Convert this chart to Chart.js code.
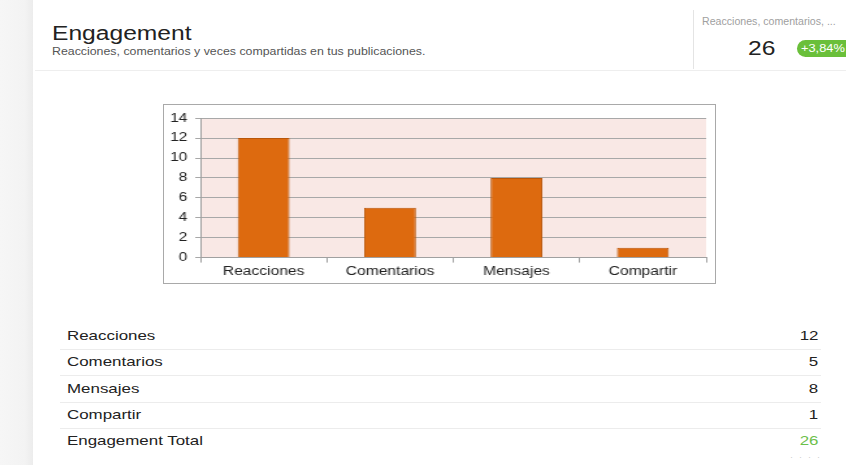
<!DOCTYPE html>
<html>
<head>
<meta charset="utf-8">
<script src="https://cdn.jsdelivr.net/npm/chart.js@4"></script>
<style>
  html, body { margin: 0; padding: 0; }
  body {
    width: 846px; height: 465px; overflow: hidden; position: relative;
    font-family: "Liberation Sans", Arial, sans-serif; color: #222;
    background: #fff;
  }
  .strip {
    position: absolute; left: 0; top: 0; width: 33px; height: 465px;
    background: linear-gradient(to right, #f6f6f6 0%, #f3f3f3 75%, #ececec 100%);
  }
  .sx { display: inline-block; white-space: nowrap; transform-origin: left center; }
  .title { position: absolute; left: 52px; top: 22px; font-size: 20px; color: #222; }
  .title .sx { transform: scaleX(1.23); }
  .subtitle { position: absolute; left: 52px; top: 46px; font-size: 10px; color: #555; }
  .subtitle .sx { transform: scaleX(1.235); }
  .hline { position: absolute; left: 35px; top: 70px; width: 811px; height: 1px; background: #eeeeee; }
  .vline { position: absolute; left: 693px; top: 10px; width: 1px; height: 59px; background: #e4e4e4; }
  .kpi-label { position: absolute; left: 702px; top: 16px; font-size: 10px; color: #a0a0a0; }
  .kpi-label .sx { transform: scaleX(1.06); }
  .kpi-value { position: absolute; left: 748px; top: 37px; font-size: 20px; color: #222; }
  .kpi-value .sx { transform: scaleX(1.23); }
  .pill {
    position: absolute; left: 797px; top: 40px; width: 60px; height: 17px;
    border-radius: 9px; background: #6abf3a; color: #fff; font-size: 10px;
    line-height: 17px; padding-left: 4px; box-sizing: border-box;
  }
  .pill .sx { transform: scaleX(1.28); }
  .box {
    position: absolute; left: 163px; top: 104px; width: 553px; height: 180px;
    border: 1px solid #a9a9a9; box-sizing: border-box; background: #fff; overflow: hidden;
  }
  .stretch { width: 424px; height: 178px; transform: scaleX(1.3); transform-origin: left top; }
  .row {
    position: absolute; left: 60px; width: 761px; height: 26px;
    font-size: 13px; line-height: 26px;
  }
  .row .lab { position: absolute; left: 7px; transform: scaleX(1.3); transform-origin: left center; white-space: nowrap; }
  .row .val { position: absolute; right: 3px; transform: scaleX(1.3); transform-origin: right center; }
  .row.sep { border-bottom: 1px solid #ececec; }
  .dots { position: absolute; left: 790px; top: 452px; font-size: 9px; color: #ccc; letter-spacing: 6px; }
</style>
</head>
<body>
<div class="strip"></div>
<div class="title"><span class="sx">Engagement</span></div>
<div class="subtitle"><span class="sx">Reacciones, comentarios y veces compartidas en tus publicaciones.</span></div>
<div class="hline"></div>
<div class="vline"></div>
<div class="kpi-label"><span class="sx">Reacciones, comentarios, ...</span></div>
<div class="kpi-value"><span class="sx" id="kpiValue"></span></div>
<div class="pill"><span class="sx" id="kpiPill"></span></div>

<div class="box"><div class="stretch"><canvas id="chart"></canvas></div></div>
<div id="table"></div>
<div class="dots">····</div>

<script>
// Datos
const categories = ['Reacciones', 'Comentarios', 'Mensajes', 'Compartir'];
const values = [12, 5, 8, 1];
const yTicks = [0, 2, 4, 6, 8, 10, 12, 14];
const totalLabel = 'Engagement Total';
const totalValue = 26;
const change = '+3,84%';

document.getElementById('kpiValue').textContent = totalValue;
document.getElementById('kpiPill').textContent = change;

// Tabla
const table = document.getElementById('table');
const rows = categories.map((c, i) => [c, values[i]]).concat([[totalLabel, totalValue]]);
rows.forEach((r, i) => {
    const div = document.createElement('div');
    div.className = 'row' + (i < rows.length - 1 ? ' sep' : '');
    div.style.top = (323 + i * 26.3) + 'px';
    div.innerHTML = '<span class="lab">' + r[0] + '</span><span class="val">' + r[1] + '</span>';
    if (i === rows.length - 1) div.querySelector('.val').style.color = '#6cc04a';
    table.appendChild(div);
});

// Fondo del area del grafico
const plotBg = {
    id: 'plotBg',
    beforeDraw(chart) {
        const a = chart.chartArea, ctx = chart.ctx;
        ctx.save();
        ctx.fillStyle = '#f9e8e5';
        ctx.fillRect(a.left, a.top, a.right - a.left, a.bottom - a.top);
        ctx.restore();
    }
};

const config = {
    type: 'bar',
    data: {
        labels: categories,
        datasets: [{
            data: values,
            backgroundColor: '#dd6a0f',
            borderColor: '#b9560a',
            borderWidth: 1,
            categoryPercentage: 1,
            barPercentage: 0.41
        }]
    },
    options: {
        responsive: false,
        animation: false,
        layout: { padding: { top: 10, right: 7, bottom: 2, left: 0 } },
        plugins: { legend: { display: false }, tooltip: { enabled: false } },
        scales: {
            x: {
                grid: { drawOnChartArea: false, tickLength: 5, color: '#a0a0a0' },
                border: { color: '#a0a0a0' },
                ticks: { color: '#222', font: { family: 'Liberation Sans', size: 12 }, padding: 2 }
            },
            y: {
                min: 0,
                max: 14,
                afterBuildTicks(scale) { scale.ticks = yTicks.map(v => ({ value: v })); },
                afterFit(scale) { scale.width = 28; },
                grid: { color: '#a8a8a8', tickLength: 4 },
                border: { color: '#a0a0a0' },
                ticks: { color: '#222', font: { family: 'Liberation Sans', size: 12 }, padding: 6 }
            }
        }
    },
    plugins: [plotBg]
};

const canvas = document.getElementById('chart');
canvas.width = 424;
canvas.height = 178;
const chart = new Chart(canvas, config);
</script>
</body>
</html>
